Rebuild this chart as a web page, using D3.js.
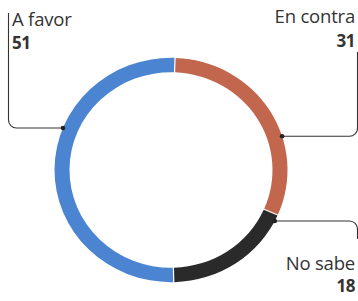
<!DOCTYPE html>
<html>
<head>
<meta charset="utf-8">
<script src="https://cdn.jsdelivr.net/npm/d3@7"></script>
<style>
  body { margin: 0; background: #fff; }
  text { font-family: "Open Sans", sans-serif; fill: #333; }
  .num { font-weight: 700; }
</style>
</head>
<body>
<div id="chart"></div>
<script>
var categories = ["En contra", "No sabe", "A favor"];
var values = [31, 18, 51];
var colors = ["#c2674d", "#2a2a2a", "#4b85d1"];

// where each leader line meets the ring (degrees clockwise from top)
var leaderAngles = [72.5, 117, 292];

var width = 358, height = 301;
var cx = 171, cy = 170;
var outerR = 116.5, innerR = 101.5;
var squash = 0.963; // the ring is a little flatter than round
var rot = 2 * Math.PI / 180;

var svg = d3.select("#chart")
  .append("svg")
  .attr("width", width)
  .attr("height", height);

var pie = d3.pie()
  .sort(null)
  .value(d => d)
  .startAngle(rot)
  .endAngle(2 * Math.PI + rot)
  .padAngle(0.008);

var arc = d3.arc()
  .innerRadius(innerR)
  .outerRadius(outerR);

var g = svg.append("g")
  .attr("transform", "translate(" + cx + "," + cy + ") scale(1," + squash + ")");

g.selectAll("path")
  .data(pie(values))
  .enter().append("path")
  .attr("d", arc)
  .attr("fill", (d, i) => colors[i]);

// leader lines
var pts = leaderAngles.map(a => {
  var p = d3.pointRadial(a * Math.PI / 180, outerR);
  return [p[0] + cx, p[1] * squash + cy];
});

var r = 8;
var paths = [
  // En contra: right, up
  "M" + pts[0][0] + "," + pts[0][1] + "H" + (357.5 - r) +
    "A" + r + "," + r + " 0 0 0 357.5," + (pts[0][1] - r) + "V52",
  // No sabe: right, down
  "M" + pts[1][0] + "," + pts[1][1] + "H" + (357.5 - r) +
    "A" + r + "," + r + " 0 0 1 357.5," + (pts[1][1] + r) + "V239",
  // A favor: left, up
  "M" + pts[2][0] + "," + pts[2][1] + "H" + (8.5 + r) +
    "A" + r + "," + r + " 0 0 1 8.5," + (pts[2][1] - r) + "V13"
];

svg.selectAll(".leader")
  .data(paths)
  .enter().append("path")
  .attr("class", "leader")
  .attr("d", d => d)
  .attr("fill", "none")
  .attr("stroke", "#333")
  .attr("stroke-width", 1.1);

svg.selectAll(".dot")
  .data(pts)
  .enter().append("circle")
  .attr("cx", d => d[0])
  .attr("cy", d => d[1])
  .attr("r", 2.3)
  .attr("fill", "#222");

// labels
var labelPos = [
  { x: 355, y: 23, y2: 47, anchor: "end" },
  { x: 355, y: 270, y2: 292, anchor: "end" },
  { x: 12, y: 26, y2: 49, anchor: "start" }
];

categories.forEach((c, i) => {
  var p = labelPos[i];
  svg.append("text")
    .attr("x", p.x).attr("y", p.y)
    .attr("text-anchor", p.anchor)
    .style("font-size", "18.5px")
    .style("letter-spacing", "-0.2px")
    .text(c);
  svg.append("text")
    .attr("class", "num")
    .attr("x", p.x).attr("y", p.y2)
    .attr("text-anchor", p.anchor)
    .style("font-size", "17px")
    .style("letter-spacing", "-0.5px")
    .text(values[i]);
});
</script>
</body>
</html>
